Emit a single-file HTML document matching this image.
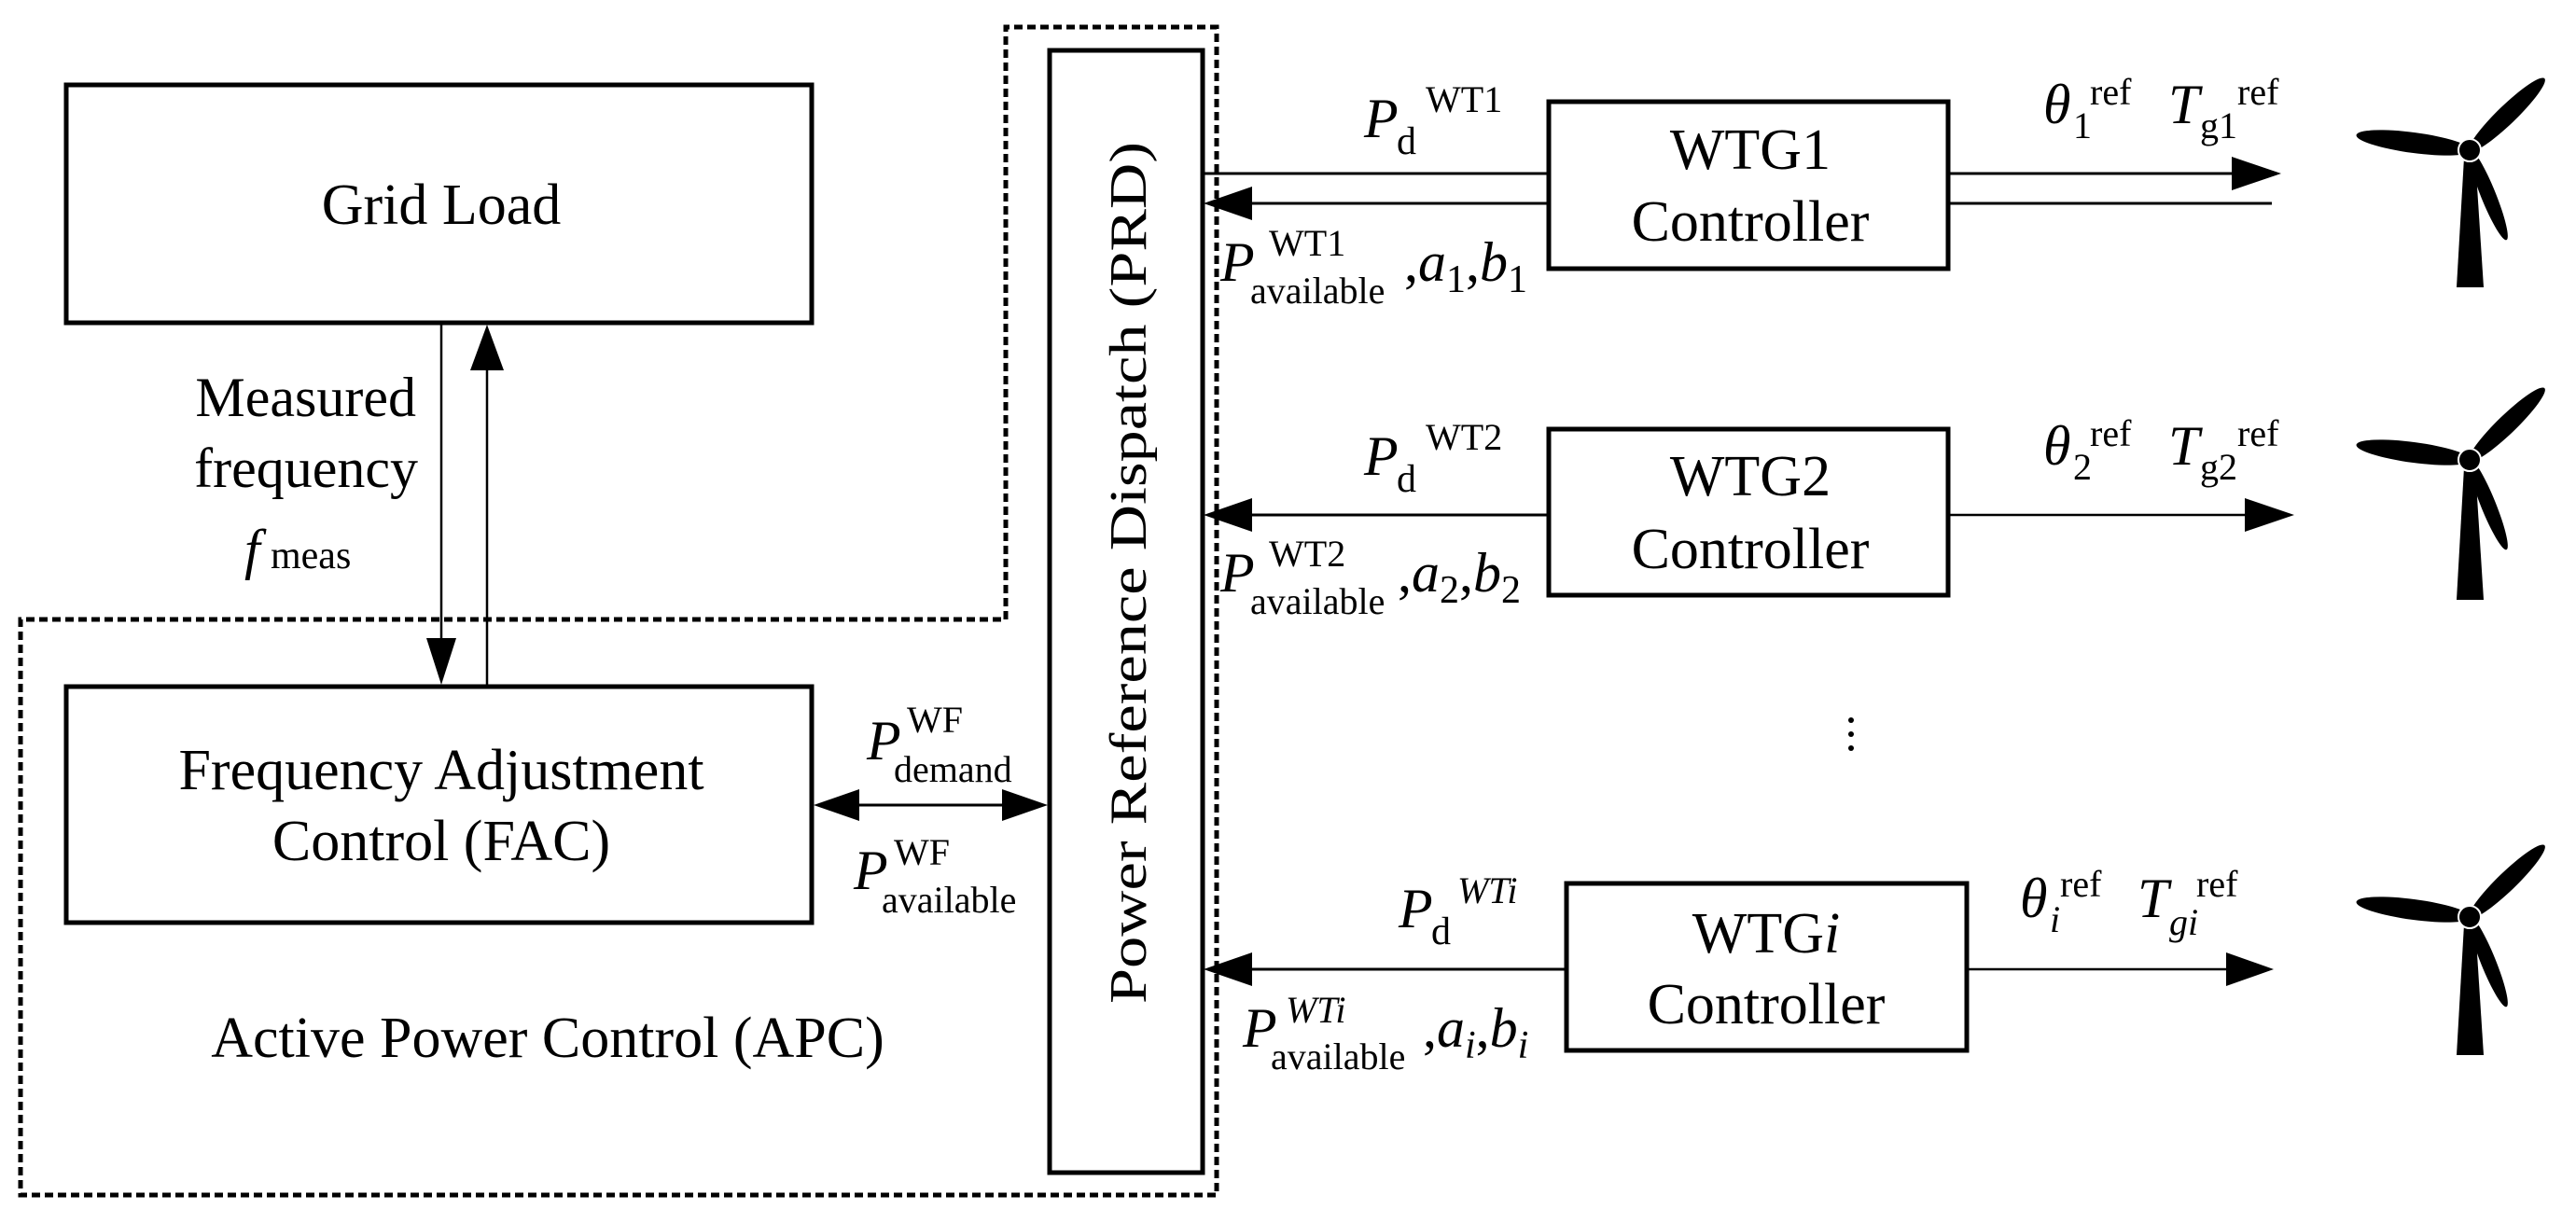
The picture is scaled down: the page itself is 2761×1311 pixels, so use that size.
<!DOCTYPE html>
<html><head><meta charset="utf-8"><style>
html,body{margin:0;padding:0;background:#fff;}
svg{display:block;}
text{font-family:"Liberation Serif",serif;fill:#000;}
.it{font-style:italic;}
</style></head><body>
<svg width="2761" height="1311" viewBox="0 0 2761 1311" xmlns="http://www.w3.org/2000/svg">
<rect width="2761" height="1311" fill="#fff"/>
<!-- dotted outline -->
<path d="M1078,664 L1078,29 L1304,29 L1304,1281 L22,1281 L22,664 Z" fill="none" stroke="#000" stroke-width="5" stroke-dasharray="9 5"/>
<!-- boxes -->
<rect x="71" y="91" width="799" height="255" fill="#fff" stroke="#000" stroke-width="5"/>
<rect x="71" y="736" width="799" height="253" fill="#fff" stroke="#000" stroke-width="5"/>
<rect x="1125" y="54" width="164" height="1203" fill="#fff" stroke="#000" stroke-width="5"/>
<rect x="1660" y="109" width="428" height="179" fill="#fff" stroke="#000" stroke-width="5"/>
<rect x="1660" y="460" width="428" height="178" fill="#fff" stroke="#000" stroke-width="5"/>
<rect x="1679" y="947" width="429" height="179" fill="#fff" stroke="#000" stroke-width="5"/>

<!-- grid load / FAC connectors -->
<line x1="473" y1="346" x2="473" y2="690" stroke="#000" stroke-width="2.5"/>
<polygon points="457,684 489,684 473,734" fill="#000"/>
<line x1="522" y1="395" x2="522" y2="736" stroke="#000" stroke-width="2.5"/>
<polygon points="504,397 540,397 522,348" fill="#000"/>
<!-- FAC <-> PRD -->
<line x1="915" y1="863" x2="1075" y2="863" stroke="#000" stroke-width="3"/>
<polygon points="872,863 921,846 921,880" fill="#000"/>
<polygon points="1123,863 1074,846 1074,880" fill="#000"/>

<!-- WTG1 lines -->
<line x1="1289" y1="186" x2="1660" y2="186" stroke="#000" stroke-width="3"/>
<line x1="1335" y1="218" x2="1660" y2="218" stroke="#000" stroke-width="3"/>
<polygon points="1290,218 1342,200 1342,236" fill="#000"/>
<line x1="2088" y1="186" x2="2395" y2="186" stroke="#000" stroke-width="3"/>
<polygon points="2445,186 2392,168 2392,204" fill="#000"/>
<line x1="2088" y1="218" x2="2435" y2="218" stroke="#000" stroke-width="3"/>
<!-- WTG2 lines -->
<line x1="1335" y1="552" x2="1660" y2="552" stroke="#000" stroke-width="3"/>
<polygon points="1290,552 1342,534 1342,570" fill="#000"/>
<line x1="2088" y1="552" x2="2410" y2="552" stroke="#000" stroke-width="2.5"/>
<polygon points="2459,552 2406,534 2406,570" fill="#000"/>
<!-- WTGi lines -->
<line x1="1335" y1="1039" x2="1679" y2="1039" stroke="#000" stroke-width="3"/>
<polygon points="1290,1039 1342,1021 1342,1057" fill="#000"/>
<line x1="2108" y1="1039" x2="2390" y2="1039" stroke="#000" stroke-width="2.5"/>
<polygon points="2437,1039 2386,1021 2386,1057" fill="#000"/>

<!-- dots -->
<circle cx="1984" cy="772" r="3" fill="#000"/>
<circle cx="1984" cy="787" r="3" fill="#000"/>
<circle cx="1984" cy="802" r="3" fill="#000"/>

<!-- main texts -->
<text x="473" y="240" font-size="62" text-anchor="middle">Grid Load</text>
<text x="473" y="846" font-size="62" text-anchor="middle">Frequency Adjustment</text>
<text x="473" y="922" font-size="62" text-anchor="middle">Control (FAC)</text>
<text x="587" y="1133" font-size="62" text-anchor="middle">Active Power Control (APC)</text>
<text font-size="56" textLength="924" lengthAdjust="spacingAndGlyphs" transform="translate(1228,1076) rotate(-90)">Power Reference Dispatch (PRD)</text>
<text x="1876" y="181" font-size="62" text-anchor="middle">WTG1</text>
<text x="1876" y="258" font-size="62" text-anchor="middle">Controller</text>
<text x="1876" y="531" font-size="62" text-anchor="middle">WTG2</text>
<text x="1876" y="609" font-size="62" text-anchor="middle">Controller</text>
<text x="1893" y="1021" font-size="62" text-anchor="middle">WTG<tspan class="it">i</tspan></text>
<text x="1893" y="1097" font-size="62" text-anchor="middle">Controller</text>

<!-- measured frequency -->
<text x="446" y="446" font-size="60" text-anchor="end">Measured</text>
<text x="448" y="522" font-size="60" text-anchor="end">frequency</text>
<text x="262" y="609" font-size="60" class="it">f</text>
<text x="290" y="609" font-size="42">meas</text>

<!-- P WF labels -->
<text x="929" y="814" font-size="60" class="it">P</text>
<text x="972" y="785" font-size="40">WF</text>
<text x="958" y="838" font-size="40">demand</text>
<text x="915" y="953" font-size="60" class="it">P</text>
<text x="958" y="927" font-size="40">WF</text>
<text x="945" y="978" font-size="40">available</text>

<!-- WT1 labels -->
<text x="1462" y="147" font-size="60" class="it">P</text>
<text x="1497" y="165" font-size="42">d</text>
<text x="1528" y="120" font-size="40">WT1</text>
<text x="1308" y="301" font-size="60" class="it">P</text>
<text x="1360" y="274" font-size="40">WT1</text>
<text x="1340" y="325" font-size="40">available</text>
<text x="1505" y="301" font-size="60">,<tspan class="it">a</tspan><tspan font-size="42" dy="12">1</tspan><tspan dy="-12">,</tspan><tspan class="it">b</tspan><tspan font-size="42" dy="12">1</tspan></text>
<text x="2190" y="132" font-size="60" class="it">θ</text>
<text x="2222" y="148" font-size="40">1</text>
<text x="2240" y="112" font-size="40">ref</text>
<text x="2324" y="132" font-size="60" class="it">T</text>
<text x="2358" y="148" font-size="40">g1</text>
<text x="2398" y="112" font-size="40">ref</text>

<!-- WT2 labels -->
<text x="1462" y="509" font-size="60" class="it">P</text>
<text x="1497" y="527" font-size="42">d</text>
<text x="1528" y="482" font-size="40">WT2</text>
<text x="1308" y="634" font-size="60" class="it">P</text>
<text x="1360" y="607" font-size="40">WT2</text>
<text x="1340" y="658" font-size="40">available</text>
<text x="1498" y="634" font-size="60">,<tspan class="it">a</tspan><tspan font-size="42" dy="12">2</tspan><tspan dy="-12">,</tspan><tspan class="it">b</tspan><tspan font-size="42" dy="12">2</tspan></text>
<text x="2190" y="498" font-size="60" class="it">θ</text>
<text x="2222" y="514" font-size="40">2</text>
<text x="2240" y="478" font-size="40">ref</text>
<text x="2324" y="498" font-size="60" class="it">T</text>
<text x="2358" y="514" font-size="40">g2</text>
<text x="2398" y="478" font-size="40">ref</text>

<!-- WTi labels -->
<text x="1499" y="994" font-size="60" class="it">P</text>
<text x="1534" y="1012" font-size="42">d</text>
<text x="1562" y="968" font-size="40" class="it">WTi</text>
<text x="1332" y="1122" font-size="60" class="it">P</text>
<text x="1378" y="1096" font-size="40" class="it">WTi</text>
<text x="1362" y="1146" font-size="40">available</text>
<text x="1525" y="1122" font-size="60">,<tspan class="it">a</tspan><tspan font-size="42" dy="12" class="it">i</tspan><tspan dy="-12">,</tspan><tspan class="it">b</tspan><tspan font-size="42" dy="12" class="it">i</tspan></text>
<text x="2165" y="983" font-size="60" class="it">θ</text>
<text x="2197" y="999" font-size="40" class="it">i</text>
<text x="2208" y="961" font-size="40">ref</text>
<text x="2291" y="983" font-size="60" class="it">T</text>
<text x="2325" y="1002" font-size="40" class="it">gi</text>
<text x="2354" y="961" font-size="40">ref</text>

<!-- turbines -->
<g transform="translate(2647,161)">
<polygon points="-6,8 6,8 15,147 -14,147" fill="#000"/>
<ellipse cx="40" cy="-38" rx="56" ry="10" transform="rotate(-44 40 -38)" fill="#000"/>
<ellipse cx="-60" cy="-8" rx="62" ry="11" transform="rotate(7.6 -60 -8)" fill="#000"/>
<ellipse cx="20" cy="48" rx="52" ry="8" transform="rotate(68 20 48)" fill="#000"/>
<circle r="12" fill="#000" stroke="#fff" stroke-width="2"/>
</g>
<g transform="translate(2647,493)">
<polygon points="-6,8 6,8 15,150 -14,150" fill="#000"/>
<ellipse cx="40" cy="-38" rx="56" ry="10" transform="rotate(-44 40 -38)" fill="#000"/>
<ellipse cx="-60" cy="-8" rx="62" ry="11" transform="rotate(7.6 -60 -8)" fill="#000"/>
<ellipse cx="20" cy="48" rx="52" ry="8" transform="rotate(68 20 48)" fill="#000"/>
<circle r="12" fill="#000" stroke="#fff" stroke-width="2"/>
</g>
<g transform="translate(2647,983)">
<polygon points="-6,8 6,8 15,148 -14,148" fill="#000"/>
<ellipse cx="40" cy="-38" rx="56" ry="10" transform="rotate(-44 40 -38)" fill="#000"/>
<ellipse cx="-60" cy="-8" rx="62" ry="11" transform="rotate(7.6 -60 -8)" fill="#000"/>
<ellipse cx="20" cy="48" rx="52" ry="8" transform="rotate(68 20 48)" fill="#000"/>
<circle r="12" fill="#000" stroke="#fff" stroke-width="2"/>
</g>
</svg>
</body></html>
